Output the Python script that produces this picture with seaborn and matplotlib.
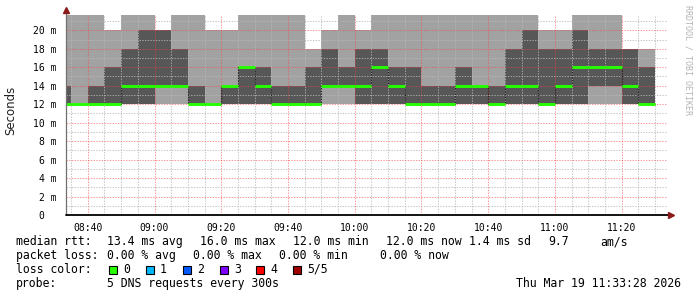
import numpy as np
import pandas as pd
import matplotlib
matplotlib.use("Agg")
import matplotlib.pyplot as plt
from matplotlib.patches import Rectangle
from matplotlib.ticker import FuncFormatter, MultipleLocator
import seaborn as sns

# ---------------- data (ms) ----------------
bar_end = ["08:35", "08:40", "08:45", "08:50", "08:55", "09:00", "09:05", "09:10",
           "09:15", "09:20", "09:25", "09:30", "09:35", "09:40", "09:45", "09:50",
           "09:55", "10:00", "10:05", "10:10", "10:15", "10:20", "10:25", "10:30",
           "10:35", "10:40", "10:45", "10:50", "10:55", "11:00", "11:05", "11:10",
           "11:15", "11:20", "11:25", "11:30"]
ping_min = [12, 12, 12, 12, 12, 12, 12, 12, 12, 12, 12, 12, 12, 12, 12, 12, 12, 12,
            12, 12, 12, 12, 12, 12, 12, 12, 12, 12, 12, 12, 12, 12, 12, 12, 12, 12]
ping_lo = [12, 12, 12, 12, 12, 12, 14, 14, 12, 12, 12, 12, 12, 12, 12, 12, 14, 14,
           12, 12, 12, 12, 12, 12, 12, 12, 12, 12, 12, 12, 12, 12, 14, 14, 12, 12]
median = [12, 12, 12, 12, 14, 14, 14, 14, 12, 12, 14, 16, 14, 12, 12, 12, 14, 14,
          14, 16, 14, 12, 12, 12, 14, 14, 12, 14, 14, 12, 14, 16, 16, 16, 14, 12]
ping_hi = [14, 12, 14, 16, 18, 20, 20, 18, 14, 12, 14, 16, 16, 14, 14, 16, 18, 16,
           18, 18, 16, 16, 14, 14, 16, 14, 14, 18, 20, 18, 18, 20, 18, 18, 18, 16]
ping_max = [23, 23, 23, 20, 23, 23, 20, 23, 23, 20, 20, 23, 23, 23, 23, 18, 20, 23,
            20, 23, 23, 23, 23, 23, 23, 23, 23, 23, 23, 20, 20, 23, 23, 23, 18, 18]

x_ticks = ["08:40", "09:00", "09:20", "09:40", "10:00", "10:20", "10:40", "11:00", "11:20"]
y_ticks = [0, 2, 4, 6, 8, 10, 12, 14, 16, 18, 20]
window_start = "08:33:28"
window_end = "11:33:28"

legend_rtt = [("median rtt:", 16), ("13.4 ms avg", 107.3), ("16.0 ms max", 200),
              ("12.0 ms min", 293.3), ("12.0 ms now", 386), ("1.4 ms sd", 469.3),
              ("9.7", 548.3), ("am/s", 600)]
legend_loss = [("packet loss:", 16), ("0.00 % avg", 107.3), ("0.00 % max", 193.3),
               ("0.00 % min", 279.3), ("0.00 % now", 380)]
loss_labels = ["0", "1", "2", "3", "4", "5/5"]
loss_colors = ["#26ff00", "#00b8ff", "#0059ff", "#7e00ff", "#ff0000", "#a10000"]
probe_text = "5 DNS requests every 300s"
stamp_text = "Thu Mar 19 11:33:28 2026"


def to_min(s):
    parts = [int(p) for p in s.split(":")]
    while len(parts) < 3:
        parts.append(0)
    return parts[0] * 60 + parts[1] + parts[2] / 60.0


end_m = np.array([to_min(t) for t in bar_end])
start_m = end_m - 5
xs = np.append(start_m, end_m[-1])


def ext(a):
    a = np.asarray(a, dtype=float)
    return np.append(a, a[-1])


df = pd.DataFrame({"t": xs, "median": ext(median)})

# ---------------- figure ----------------
sns.set_theme(style="white")
plt.rcParams["font.family"] = ["DejaVu Sans Mono", "DejaVu Sans"]

W, H = 697, 297
fig = plt.figure(figsize=(W / 100, H / 100), dpi=100)
ax_l, ax_r, ax_b, ax_t = 66, 666.6, 215, 14.7
ax = fig.add_axes([ax_l / W, (H - ax_b) / H, (ax_r - ax_l) / W, (ax_b - ax_t) / H])
ax.set_facecolor("white")

LIGHT = "#a2a2a2"
DARK = "#575757"
ax.fill_between(xs, ext(ping_min), ext(ping_max), step="post", color=LIGHT,
                lw=0, zorder=1)
ax.fill_between(xs, ext(ping_lo), ext(ping_hi), step="post", color=DARK,
                lw=0, zorder=1.1)

# median: dark dotted step line + green horizontal segments
sns.lineplot(data=df, x="t", y="median", drawstyle="steps-post", color="#202020",
             lw=0.8, linestyle=(0, (1.2, 1.2)), ax=ax, zorder=3, legend=False)
ax.hlines(median, start_m, end_m, color="#26ff00", lw=2.1, zorder=4)

ax.set_xlim(to_min(window_start), to_min(window_end))
ax.set_ylim(0, 21.69)

ax.set_xticks([to_min(t) for t in x_ticks])
ax.xaxis.set_minor_locator(MultipleLocator(5))
ax.set_yticks(y_ticks)
ax.yaxis.set_minor_locator(MultipleLocator(1))
ax.xaxis.set_major_formatter(FuncFormatter(lambda v, p: "%02d:%02d" % (int(round(v)) // 60, int(round(v)) % 60)))
ax.yaxis.set_major_formatter(FuncFormatter(lambda v, p: "%d m" % round(v) if round(v) != 0 else "0\u2007\u2007"))

ax.set_axisbelow(False)
ax.grid(which="major", color="#ff4040", alpha=0.55, lw=0.75, linestyle=(0, (1.3, 1.3)))
ax.grid(which="minor", color="#b8b8b8", alpha=0.8, lw=0.75, linestyle=(0, (1.3, 1.3)))

for s in ax.spines.values():
    s.set_visible(False)

ax.tick_params(axis="both", which="major", labelsize=7, colors="#606060",
               labelcolor="black", length=3, width=0.7, direction="out")
ax.tick_params(axis="both", which="minor", colors="#909090", length=2, width=0.7,
               direction="out")
ax.tick_params(axis="y", which="major", pad=3.5)
ax.tick_params(axis="x", which="major", pad=2.5)

# axis lines with arrows
ax.plot([0, 0], [0, 1.015], transform=ax.transAxes, color="#707070", lw=0.9,
        clip_on=False, zorder=5)
ax.plot([0, 1.0055], [0, 0], transform=ax.transAxes, color="black", lw=1.3,
        clip_on=False, zorder=5)
ax.plot([0], [1.022], transform=ax.transAxes, marker="^", ms=5, color="#8b1a1a",
        mec="#8b1a1a", clip_on=False, zorder=6)
ax.plot([1.008], [0], transform=ax.transAxes, marker=">", ms=5, color="#8b1a1a",
        mec="#8b1a1a", clip_on=False, zorder=6)

ax.set_xlabel("")
ax.set_ylabel("")
fig.text(11 / W, 1 - 110 / H, "Seconds", rotation=90, ha="center", va="center",
         fontsize=8.5, family="DejaVu Sans", color="#202020")

# watermark
fig.text(688 / W, 1 - 60 / H, "RRDTOOL / TOBI OETIKER", rotation=270, ha="center",
         va="center", fontsize=6, color="#b4b4b4", family="DejaVu Sans Mono")


def ftext(x, y, s, **kw):
    fig.text(x / W, 1 - y / H, s, va="center", fontsize=8.3,
             family="DejaVu Sans Mono", color="black", **kw)


y1, y2, y3, y4 = 241.7, 255.2, 269.3, 283.3
for s, x in legend_rtt:
    ftext(x, y1, s)
for s, x in legend_loss:
    ftext(x, y2, s)
ftext(16, y3, "loss color:")
box_x = [108.5, 145.5, 182.5, 219.5, 256, 293]
for bx, lab, col in zip(box_x, loss_labels, loss_colors):
    fig.patches.append(Rectangle((bx / W, 1 - 273.5 / H), 8 / W, 8 / H,
                                 transform=fig.transFigure, facecolor=col,
                                 edgecolor="black", lw=0.8, figure=fig))
    ftext(bx + 14.5, y3, lab)
ftext(16, y4, "probe:")
ftext(107.3, y4, probe_text)
ftext(681, y4, stamp_text, ha="right")

fig.savefig("out.png", dpi=100)
